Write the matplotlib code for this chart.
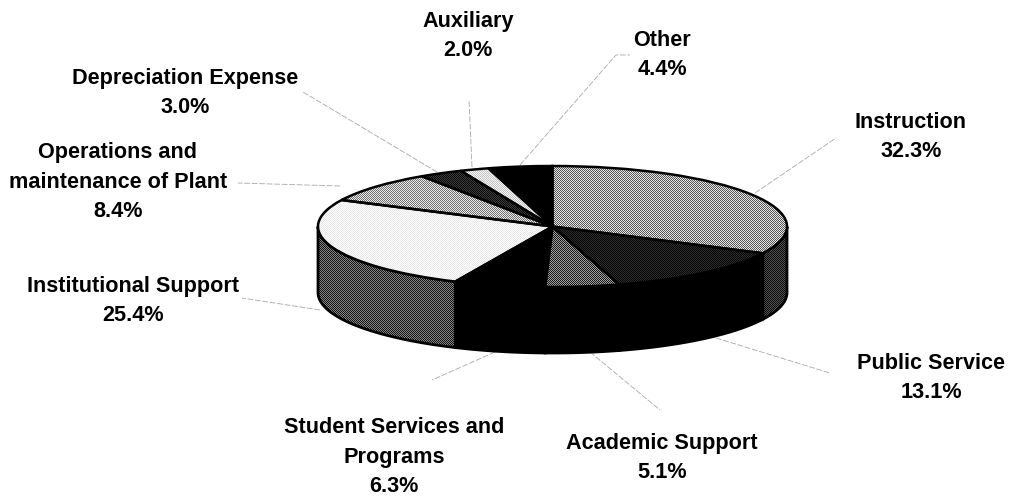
import numpy as np
import matplotlib
matplotlib.use('Agg')
import matplotlib.pyplot as plt
from matplotlib.patches import Wedge
from matplotlib.transforms import Affine2D

W, H = 1011, 496

# slices, clockwise from 12 o'clock
categories = ['Instruction', 'Public Service', 'Academic Support',
              'Student Services and\nPrograms', 'Institutional Support',
              'Operations and\nmaintenance of Plant', 'Depreciation Expense',
              'Auxiliary', 'Other']
values = [32.3, 13.1, 5.1, 6.3, 25.4, 8.4, 3.0, 2.0, 4.4]

# grey level of each slice, 0 black, 1 white
top_greys = [0.62, 0.10, 0.36, 0.0, 0.95, 0.68, 0.14, 0.86, 0.0]
side_greys = [0.18, 0.0, 0.0, 0.0, 0.30, 0.45, 0.15, 0.6, 0.0]

# label centres in image pixels
label_x = [911, 931, 662, 394, 133, 118, 185, 468, 662]
label_y = [137, 378, 458, 457, 301, 182, 93, 36, 55]

# leader lines in image pixels
leaders = [
    [(755, 193), (836, 138)],
    [(716, 338), (830, 373)],
    [(590, 352), (660, 410)],
    [(495, 352), (432, 380)],
    [(320, 310), (242, 298)],
    [(340, 186), (238, 183)],
    [(437, 172), (303, 92)],
    [(472, 167), (469, 100)],
    [(520, 165), (616, 55), (630, 55)],
]

CX, CY = 552.5, 226.5
A, B = 234.5, 60.5
DEPTH = 66

fig = plt.figure(figsize=(W / 100, H / 100), dpi=100)
ax = fig.add_axes([0, 0, 1, 1])

# one pixel checker, the original is a scanned halftone
rows, cols = np.indices((H, W))
checker = (rows + cols) % 2 * 2 - 1


def shade(patch, grey, zorder):
    """Fill a patch with a halftone of the given grey, clipped to its shape."""
    ink = grey + checker * 0.75 * min(grey, 1 - grey)
    im = ax.imshow(ink, cmap='gray', vmin=0, vmax=1, extent=(0, W, H, 0),
                   aspect='auto', interpolation='nearest', zorder=zorder)
    im.set_clip_path(patch)


ends = 90 - np.cumsum(values) * 3.6
starts = np.r_[90, ends[:-1]]

# side walls first, only the part that faces the front
for t1, t0, g in zip(starts, ends, side_greys):
    lo = max(t0, -180)
    hi = min(t1, 0)
    if lo >= hi:
        continue
    t = np.radians(np.linspace(hi, lo, 60))
    x = CX + A * np.cos(t)
    y = CY - B * np.sin(t)
    wall = ax.fill(np.r_[x, x[::-1]], np.r_[y, y[::-1] + DEPTH],
                   facecolor='none', edgecolor='black', linewidth=2.0, zorder=3)[0]
    shade(wall, g, 2)

# y axis is flipped, so the ellipse gets a negative y scale
to_pie = Affine2D().scale(A, -B).translate(CX, CY) + ax.transData
for t1, t0, g in zip(starts, ends, top_greys):
    wedge = Wedge((0, 0), 1, t0, t1, facecolor='none', edgecolor='black',
                  linewidth=1.8, transform=to_pie, zorder=5)
    ax.add_patch(wedge)
    shade(wedge, g, 4)

for pts in leaders:
    xs, ys = zip(*pts)
    ax.plot(xs, ys, color='#a8a8a8', lw=0.6, ls=(0, (7, 2)), zorder=1)

for name, v, x, y in zip(categories, values, label_x, label_y):
    ax.text(x, y, f'{name}\n{v:.1f}%', ha='center', va='center', ma='center',
            family='Liberation Sans', weight='bold', fontsize=15.6,
            linespacing=1.52, color='black', zorder=6)

ax.set_xlim(0, W)
ax.set_ylim(H, 0)
ax.axis('off')

fig.savefig('out.png', dpi=100)
